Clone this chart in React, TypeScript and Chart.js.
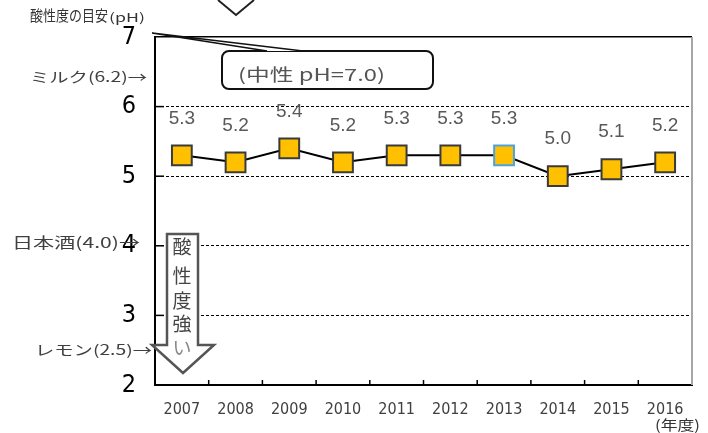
import { useEffect, useRef } from "react";
import { Chart, registerables } from "chart.js";

Chart.register(...registerables);

const years = ["2007", "2008", "2009", "2010", "2011", "2012", "2013", "2014", "2015", "2016"];
const phValues = [5.3, 5.2, 5.4, 5.2, 5.3, 5.3, 5.3, 5.0, 5.1, 5.2];
const yMin = 2;
const yMax = 7;
const innerTickValues = [3, 4, 5, 6];
const highlightIndex = 6;
const arrowChars = ["酸", "性", "度", "強", "い"];
const arrowCharY = [247, 276, 301, 324, 348];

const JP = "'Noto Sans CJK JP', 'Noto Sans', sans-serif";

function fitText(ctx: CanvasRenderingContext2D, text: string, x: number, y: number, w: number, font: string, color: string) {
  ctx.save();
  ctx.font = font;
  ctx.fillStyle = color;
  ctx.textBaseline = "middle";
  ctx.textAlign = "left";
  const m = ctx.measureText(text).width;
  ctx.translate(x, y);
  ctx.scale(w / m, 1);
  ctx.fillText(text, 0, 0);
  ctx.restore();
}

function line(ctx: CanvasRenderingContext2D, x1: number, y1: number, x2: number, y2: number) {
  ctx.beginPath();
  ctx.moveTo(x1, y1);
  ctx.lineTo(x2, y2);
  ctx.stroke();
}

const labelPlugin = {
  id: "valueLabels",
  afterDatasetsDraw(chart: any) {
    const ctx = chart.ctx as CanvasRenderingContext2D;
    const meta = chart.getDatasetMeta(0);
    ctx.save();
    ctx.font = "19px 'Liberation Sans', Arial, sans-serif";
    ctx.fillStyle = "#595959";
    ctx.textAlign = "center";
    ctx.textBaseline = "middle";
    meta.data.forEach((pt: any, i: number) => {
      ctx.fillText(phValues[i].toFixed(1), pt.x, pt.y - 37);
    });
    ctx.restore();
  },
};

const overlayPlugin = {
  id: "overlay",
  afterDraw(chart: any) {
    const ctx = chart.ctx as CanvasRenderingContext2D;
    const { left, right, top, bottom } = chart.chartArea;
    const xs = chart.scales.x;
    const ys = chart.scales.y;
    ctx.save();
    // right border
    ctx.strokeStyle = "#a6a6a6";
    ctx.lineWidth = 2;
    line(ctx, right, top, right, bottom);
    // y inside ticks
    ctx.strokeStyle = "#000";
    ctx.lineWidth = 1.5;
    innerTickValues.forEach((v) => {
      const y = ys.getPixelForValue(v);
      line(ctx, left, y, left + 9, y);
    });
    // x inside ticks at category boundaries
    for (let i = 1; i < years.length; i++) {
      const x = (xs.getPixelForValue(i - 1) + xs.getPixelForValue(i)) / 2;
      line(ctx, x, bottom, x, bottom - 5);
    }

    // callout box
    ctx.lineWidth = 2;
    ctx.strokeStyle = "#111";
    ctx.fillStyle = "#fff";
    ctx.beginPath();
    (ctx as any).roundRect(222, 51, 211, 38, 7);
    ctx.fill();
    ctx.stroke();
    // pointer
    ctx.beginPath();
    ctx.moveTo(152, 33);
    ctx.lineTo(267, 51);
    ctx.lineTo(303, 51);
    ctx.closePath();
    ctx.fill();
    ctx.lineWidth = 1.5;
    ctx.beginPath();
    ctx.moveTo(267, 51);
    ctx.lineTo(152, 33);
    ctx.lineTo(303, 51);
    ctx.stroke();
    fitText(ctx, "(中性 pH=7.0)", 238, 75, 147, `17px ${JP}`, "#555");

    // down arrow
    ctx.beginPath();
    ctx.moveTo(167, 234);
    ctx.lineTo(198, 234);
    ctx.lineTo(198, 345);
    ctx.lineTo(214, 345);
    ctx.lineTo(183, 373);
    ctx.lineTo(152, 345);
    ctx.lineTo(167, 345);
    ctx.closePath();
    ctx.fillStyle = "#fff";
    ctx.fill();
    ctx.strokeStyle = "#555";
    ctx.lineWidth = 2.5;
    ctx.stroke();
    ctx.font = `19px ${JP}`;
    ctx.textAlign = "center";
    ctx.textBaseline = "middle";
    arrowChars.forEach((c, i) => {
      ctx.fillStyle = i === arrowChars.length - 1 ? "#888" : "#444";
      ctx.fillText(c, 182, arrowCharY[i]);
    });

    // top chevron and clipped heading
    ctx.strokeStyle = "#222";
    ctx.lineWidth = 2;
    ctx.beginPath();
    ctx.moveTo(218, 0);
    ctx.lineTo(236, 15);
    ctx.lineTo(254, 0);
    ctx.stroke();
    fitText(ctx, "数値が小さいほど酸性度が強い傾向", 268, -9, 275, `16px ${JP}`, "#222");

    // left notes
    fitText(ctx, "酸性度の目安", 30, 15, 78, `15px ${JP}`, "#333");
    fitText(ctx, "(pH)", 109, 17, 36, `12px ${JP}`, "#333");
    fitText(ctx, "ミルク(6.2)→", 30, 77, 117, `14px ${JP}`, "#404040");
    fitText(ctx, "日本酒(4.0)→", 12, 242, 128, `15px ${JP}`, "#404040");
    fitText(ctx, "レモン(2.5)→", 35, 350, 117, `14px ${JP}`, "#404040");
    fitText(ctx, "(年度)", 655, 425, 45, `14px ${JP}`, "#333");
    ctx.restore();
  },
};

export default function App() {
  const ref = useRef<HTMLCanvasElement | null>(null);
  useEffect(() => {
    if (!ref.current) return;
    const chart = new Chart(ref.current, {
      type: "line",
      data: {
        labels: years,
        datasets: [
          {
            data: phValues,
            borderColor: "#000",
            borderWidth: 2,
            pointStyle: "rect",
            pointRadius: 14,
            pointHoverRadius: 14,
            pointBackgroundColor: "#FFC000",
            pointBorderColor: phValues.map((_, i) => (i === highlightIndex ? "#4aa3df" : "#3a3a3a")),
            pointBorderWidth: 2,
            tension: 0,
          },
        ],
      },
      options: {
        animation: false,
        responsive: false,
        devicePixelRatio: 1,
        layout: { padding: { top: 37, right: 15, left: 0, bottom: 0 } },
        plugins: { legend: { display: false }, tooltip: { enabled: false } },
        scales: {
          x: {
            type: "category",
            offset: true,
            afterFit: (s: any) => {
              s.height = 48;
            },
            grid: { display: false, drawTicks: false },
            border: { display: true, color: "#000", width: 2 },
            ticks: {
              padding: 15,
              color: "#404040",
              font: { family: "'DejaVu Sans Condensed', 'Liberation Sans', sans-serif", size: 16 },
              maxRotation: 0,
              autoSkip: false,
            },
          },
          y: {
            min: yMin,
            max: yMax,
            afterFit: (s: any) => {
              s.width = 155;
            },
            grid: {
              drawTicks: false,
              color: (c: any) => (c.tick && c.tick.value === yMin ? "rgba(0,0,0,0)" : "#000"),
              lineWidth: (c: any) => (c.tick && c.tick.value === yMax ? 1.5 : 1),
            },
            border: {
              display: true,
              color: "#000",
              width: 2,
              dash: (c: any) => (c.tick && c.tick.value === yMax ? [] : [3, 2]),
            } as any,
            ticks: {
              stepSize: 1,
              padding: 19,
              color: "#000",
              font: { family: "'DejaVu Sans Condensed', 'Liberation Sans', sans-serif", size: 25 },
            },
          },
        },
      },
      plugins: [labelPlugin, overlayPlugin],
    });
    return () => chart.destroy();
  }, []);
  return (
    <div style={{ position: "fixed", left: 0, top: 0, width: 708, height: 433, background: "#fff" }}>
      <canvas ref={ref} width={708} height={433} style={{ width: 708, height: 433, display: "block" }} />
    </div>
  );
}
